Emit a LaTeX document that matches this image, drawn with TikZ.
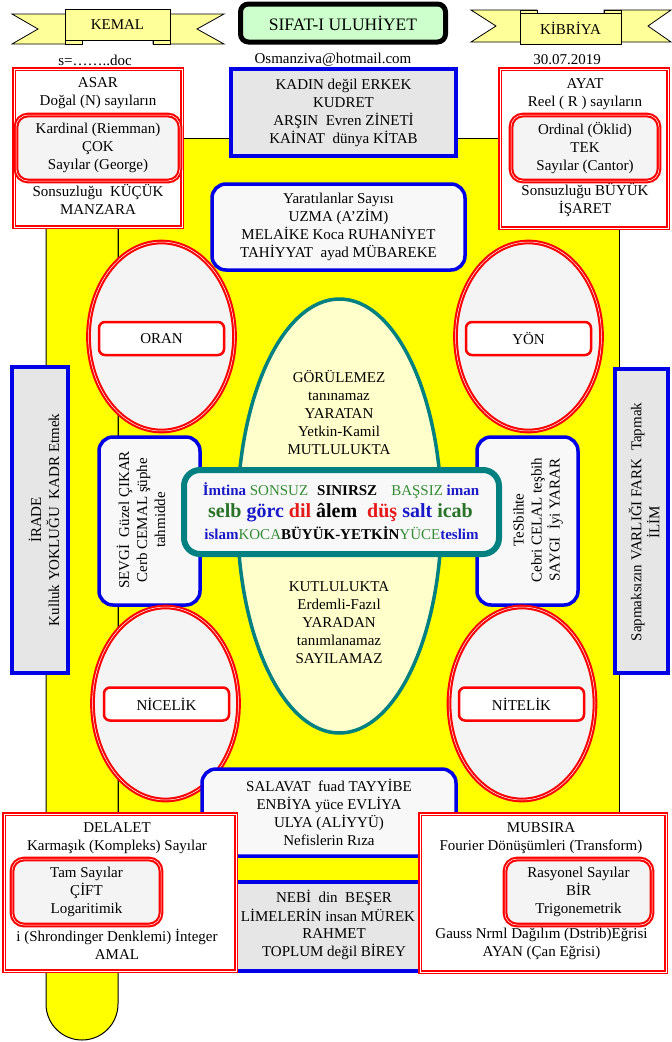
\documentclass[tikz,border=0pt]{standalone}
\usepackage{fontspec}
\setmainfont{Liberation Serif}
\usepackage{xcolor}
\usepackage{tikz}
\usetikzlibrary{shapes.geometric}

\definecolor{sari}{RGB}{255,255,0}
\definecolor{kurdele}{RGB}{255,255,153}
\definecolor{acikyesil}{RGB}{204,255,204}
\definecolor{kirmizi}{RGB}{255,0,0}
\definecolor{kirmiziyazi}{RGB}{230,25,25}
\definecolor{mavi}{RGB}{0,0,230}
\definecolor{maviyazi}{RGB}{25,25,200}
\definecolor{yesil}{RGB}{51,140,51}
\definecolor{koyuyesil}{RGB}{40,115,40}
\definecolor{camgobegi}{RGB}{0,128,128}
\definecolor{gri}{RGB}{230,230,230}
\definecolor{acikgri}{RGB}{244,244,244}
\definecolor{beyazimsi}{RGB}{248,248,248}
\definecolor{kremsari}{RGB}{255,255,204}

\begin{document}
\begin{tikzpicture}[x=1pt, y=-1pt, every node/.style={font=\fontsize{15}{18}\selectfont, align=center}]
      % Stiller
      \tikzstyle{serit}=[draw, line width=0.8pt, fill=kurdele]
      \tikzstyle{kirmizikutu}=[draw=kirmizi, double=white, double distance=0.5pt, line width=2.1pt, fill=white]
      \tikzstyle{ickutu}=[kirmizikutu, rounded corners=12pt, fill=acikgri, minimum height=66pt]
      \tikzstyle{kirmizielips}=[ellipse, draw=kirmizi, double=white, double distance=0.5pt, line width=2.1pt, fill=acikgri, inner sep=0pt, minimum width=146pt, minimum height=189pt]
      \tikzstyle{etiket}=[draw=kirmizi, line width=2.5pt, rounded corners=6pt, fill=white, minimum width=125pt, minimum height=33pt]
      \tikzstyle{grikutu}=[draw=mavi, line width=3.5pt, fill=gri]
      \tikzstyle{yuvarlakkutu}=[draw=mavi, line width=3.5pt, fill=beyazimsi, rounded corners=14pt]

      \useasboundingbox (0,0) rectangle (672,1042);

      % Sari zemin
      \draw[line width=1pt, fill=sari] (118,138) rectangle (619,960);
      \draw[line width=1pt, fill=sari] (46,200) -- (46,1004) arc[start angle=180, end angle=0, radius=36] -- (118,200) -- cycle;

      % Kurdeleler
      \draw[serit] (12,14) -- (82,14) -- (82,44) -- (12,44) -- (38,29) -- cycle;
      \draw[serit] (224,14) -- (153,14) -- (153,44) -- (224,44) -- (197,29) -- cycle;
      \draw[serit] (65,38) rectangle (82,44);
      \draw[serit] (153,38) rectangle (170,44);
      \node[serit, minimum width=105pt, minimum height=31pt] (kemal) at (117.5,25) {KEMAL};
      \draw[serit] (471,10) -- (537,10) -- (537,42) -- (471,42) -- (496,26) -- cycle;
      \draw[serit] (671,10) -- (604,10) -- (604,42) -- (671,42) -- (648,26) -- cycle;
      \draw[serit] (520,10) rectangle (537,16);
      \draw[serit] (604,10) rectangle (621,16);
      \node[serit, minimum width=101pt, minimum height=31pt] (kibriya) at (570.5,28.5) {KİBRİYA};

      % Baslik
      \node[draw, line width=5pt, rounded corners=8pt, fill=acikyesil, minimum width=205pt, minimum height=38pt, font=\fontsize{17.5}{20}\selectfont] (baslik) at (343,23) {SIFAT-I ULUHİYET};
      \node (dosya) at (95,60) {s=……..doc};
      \node (eposta) at (333,60) {Osmanziva@hotmail.com};
      \node (tarih) at (567,60) {30.07.2019};

      % Ust kutular
      \node[kirmizikutu, minimum width=168pt, minimum height=158pt] (asar) at (98,148) {};
      \node (asarust) at (98,93.5) {ASAR\\Doğal (N) sayıların};
      \node (asaralt) at (98,199) {Sonsuzluğu\ \ KÜÇÜK\\MANZARA};
      \node[ickutu, minimum width=164pt] (kardinal) at (98,148) {Kardinal (Riemman)\\ÇOK\\Sayılar (George)};

      \node[kirmizikutu, minimum width=168pt, minimum height=159pt] (ayat) at (584,148.5) {};
      \node (ayatust) at (585,94.5) {AYAT\\Reel ( R ) sayıların};
      \node (ayatalt) at (585,200) {Sonsuzluğu BÜYÜK\\İŞARET};
      \node[ickutu, minimum width=148pt] (ordinal) at (585,148) {Ordinal (Öklid)\\TEK\\Sayılar (Cantor)};

      \node[grikutu, minimum width=225pt, minimum height=87pt] (kadin) at (343.5,112.5) {KADIN değil ERKEK\\KUDRET\\ARŞIN\ \ Evren ZİNETİ\\KAİNAT\ \ dünya KİTAB};
      \node[yuvarlakkutu, minimum width=253pt, minimum height=86pt] (yaratilan) at (338.5,227) {Yaratılanlar Sayısı\\UZMA (A’ZİM)\\MELAİKE Koca RUHANİYET\\TAHİYYAT\ \ ayad MÜBAREKE};

      % Ust elipsler
      \node[kirmizielips] (oranelips) at (161.5,336.5) {};
      \node[etiket] (oran) at (161.5,338.5) {ORAN};
      \node[kirmizielips] (yonelips) at (528.5,336.5) {};
      \node[etiket] (yon) at (528.5,338.5) {YÖN};

      % Orta elips
      \node[ellipse, draw=camgobegi, line width=3.5pt, fill=kremsari, minimum width=204pt, minimum height=434pt] (buyukelips) at (339.5,516) {};
      \node (gorulemez) at (339,412) {GÖRÜLEMEZ\\tanınamaz\\YARATAN\\Yetkin-Kamil\\MUTLULUKTA};
      \node (kutlulukta) at (339,622.5) {KUTLULUKTA\\Erdemli-Fazıl\\YARADAN\\tanımlanamaz\\SAYILAMAZ};

      % Yan kutular
      \node[yuvarlakkutu, minimum width=101pt, minimum height=168pt] (sevgi) at (149.5,521) {};
      \node[rotate=90] (sevgiyazi) at (141,520) {SEVGİ\ \ Güzel ÇIKAR\\Cerb CEMAL şüphe\\tahmidde};
      \node[yuvarlakkutu, minimum width=101pt, minimum height=168pt] (tesbih) at (527.5,521) {};
      \node[rotate=90] (tesbihyazi) at (538,520) {TeSbihte\\Cebri CELAL teşbih\\SAYGI\ \ İyi YARAR};

      % Merkez kutu
      \node[draw=camgobegi, line width=6pt, rounded corners=16pt, fill=beyazimsi, minimum width=315pt, minimum height=84pt] (merkez) at (341.5,512) {};
      \node[font=\fontsize{15}{18}\selectfont\bfseries, text=maviyazi] (satir1) at (341,491) {İmtina \textcolor{yesil}{\mdseries SONSUZ}\hspace{9pt}\textcolor{black}{SINIRSZ}\hspace{14pt}\textcolor{yesil}{\mdseries BAŞSIZ} iman};
      \node[font=\fontsize{20}{22}\selectfont\bfseries] (satir2) at (340.5,513) {\textcolor{koyuyesil}{selb} \textcolor{maviyazi}{görc} \textcolor{kirmiziyazi}{dil} âlem\hspace{5pt} \textcolor{kirmiziyazi}{düş} \textcolor{maviyazi}{salt} \textcolor{koyuyesil}{icab}};
      \node[font=\fontsize{15}{18}\selectfont\bfseries, text=maviyazi] (satir3) at (341.5,533) {islam\textcolor{yesil}{\mdseries KOCA}\textcolor{black}{BÜYÜK-YETKİN}\textcolor{yesil}{\mdseries YÜCE}teslim};

      % Dikey kutular
      \node[grikutu, minimum width=56pt, minimum height=306pt] (irade) at (40,520) {};
      \node[rotate=90] (iradeyazi) at (44,520) {İRADE\\Kulluk YOKLUĞU\ \ KADR Etmek};
      \node[grikutu, minimum width=53pt, minimum height=304pt] (ilim) at (641.5,521) {};
      \node[rotate=90] (ilimyazi) at (644,522) {Sapmaksızın VARLIĞI FARK\ \ Tapmak\\İLİM};

      % Alt elipsler
      \node[kirmizielips, minimum height=193pt] (nicelikelips) at (165.5,703.5) {};
      \node[etiket] (nicelik) at (166.5,704) {NİCELİK};
      \node[kirmizielips, minimum height=193pt] (nitelikelips) at (522,703.5) {};
      \node[etiket] (nitelik) at (521.5,704) {NİTELİK};

      % Alt orta kutular
      \node[yuvarlakkutu, minimum width=254pt, minimum height=87pt] (salavat) at (329,812.5) {SALAVAT\ \ fuad TAYYİBE\\ENBİYA yüce EVLİYA\\ULYA (ALİYYÜ)\\Nefislerin Rıza};
      \node[grikutu, minimum width=302pt, minimum height=89pt] (nebi) at (335,926.5) {};
      \node (nebiyazi) at (334,925) {NEBİ\ \ din\ \ BEŞER\\[18pt]RAHMET\\TOPLUM değil BİREY};
      \node (kelime) at (328,915) {LİMELERİN insan MÜREK};

      % Alt kutular
      \node[kirmizikutu, minimum width=232pt, minimum height=157pt] (delalet) at (120,892.5) {};
      \node (delaletust) at (117,838) {DELALET\\Karmaşık (Kompleks) Sayılar};
      \node (delaletalt) at (117,944) {i (Shrondinger Denklemi) İnteger\\AMAL};
      \node[ickutu, minimum width=149pt] (tamsayi) at (86.5,892) {Tam Sayılar\\ÇİFT\\Logaritimik};

      \node[kirmizikutu, minimum width=246pt, minimum height=158pt] (mubsira) at (543,893) {};
      \node (mubsiraust) at (541,838.5) {MUBSIRA\\Fourier Dönüşümleri (Transform)};
      \node (mubsiraalt) at (541.5,944) {Gauss Nrml Dağılım (Dstrib)Eğrisi\\AYAN (Çan Eğrisi)};
      \node[ickutu, minimum width=147pt] (rasyonel) at (578.5,892) {Rasyonel Sayılar\\BİR\\Trigonemetrik};
\end{tikzpicture}
\end{document}
